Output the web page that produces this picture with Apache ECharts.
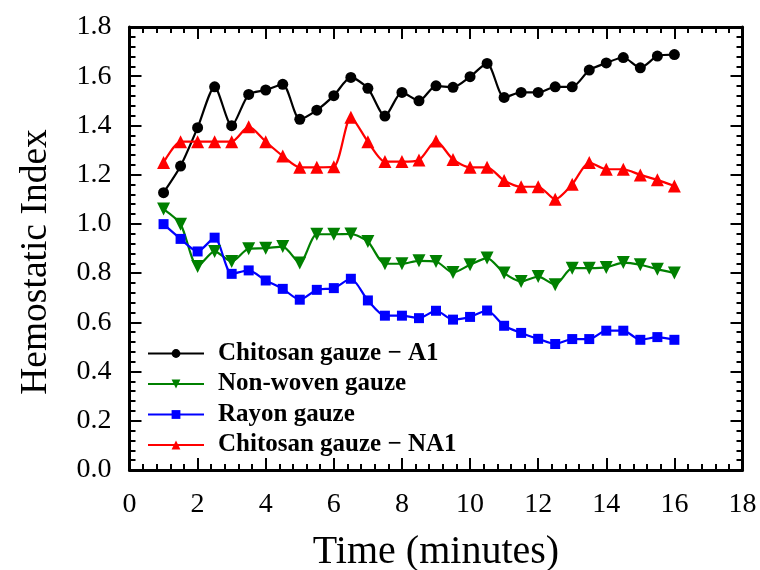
<!DOCTYPE html>
<html>
<head>
<meta charset="utf-8">
<script src="https://cdn.jsdelivr.net/npm/echarts@6/dist/echarts.min.js"></script>
<style>html,body{margin:0;padding:0;background:#fff}#c{width:760px;height:570px}</style>
</head>
<body>
<div id="c"></div>
<script>
var times = [1,1.5,2,2.5,3,3.5,4,4.5,5,5.5,6,6.5,7,7.5,8,8.5,9,9.5,10,10.5,11,11.5,12,12.5,13,13.5,14,14.5,15,15.5,16];
var chitosanA1 = [1.127,1.235,1.391,1.557,1.399,1.526,1.544,1.567,1.425,1.462,1.521,1.595,1.551,1.438,1.534,1.500,1.561,1.555,1.598,1.652,1.514,1.534,1.534,1.557,1.557,1.625,1.654,1.676,1.634,1.682,1.688];
var nonWoven = [1.060,0.999,0.827,0.888,0.847,0.899,0.901,0.908,0.841,0.958,0.958,0.959,0.928,0.838,0.838,0.850,0.847,0.802,0.834,0.861,0.800,0.766,0.786,0.753,0.820,0.820,0.823,0.843,0.834,0.816,0.800];
var rayon = [0.999,0.939,0.888,0.944,0.797,0.811,0.770,0.736,0.692,0.732,0.739,0.777,0.689,0.627,0.627,0.617,0.647,0.611,0.622,0.648,0.586,0.557,0.533,0.512,0.532,0.532,0.566,0.566,0.529,0.540,0.529];
var chitosanNA1 = [1.249,1.334,1.334,1.334,1.334,1.395,1.334,1.276,1.230,1.230,1.232,1.433,1.334,1.253,1.253,1.260,1.337,1.262,1.230,1.230,1.176,1.151,1.151,1.100,1.161,1.249,1.222,1.222,1.199,1.179,1.154];
var seriesNames = ['Chitosan gauze \u2212 A1','Non-woven gauze','Rayon gauze','Chitosan gauze \u2212 NA1'];
var xTicks = [0,2,4,6,8,10,12,14,16,18];
var yTicks = [0.0,0.2,0.4,0.6,0.8,1.0,1.2,1.4,1.6,1.8];
var xTitle = 'Time (minutes)';
var yTitle = 'Hemostatic Index';

function pairs(ys){ return times.map(function(t,i){ return [t, ys[i]]; }); }

var serif = 'Liberation Serif';
var tickCommon = {show:true, inside:true, length:12, lineStyle:{color:'#000', width:2}};
var minorCommon = {show:true, splitNumber:5, length:6, lineStyle:{color:'#000', width:2}};
var lineCommon = {show:true, onZero:false, lineStyle:{color:'#000', width:3}};

var chart = echarts.init(document.getElementById('c'), null, {renderer:'canvas'});
chart.setOption({
  animation:false,
  backgroundColor:'#fff',
  grid:{left:129.5, right:17.5, top:27, bottom:100, containLabel:false, outerBoundsMode:'none'},
  graphic:[{
    type:'text', x:36, y:262, rotation:Math.PI/2,
    style:{text:yTitle, fontFamily:serif, fontSize:37.5, fill:'#000', align:'center', verticalAlign:'middle'}
  }],
  xAxis:[{
    type:'value', min:xTicks[0], max:xTicks[xTicks.length-1], interval:2,
    name:xTitle, nameLocation:'middle', nameGap:62,
    nameTextStyle:{fontFamily:serif, fontSize:40, color:'#000'},
    axisLine:lineCommon, axisTick:tickCommon, minorTick:minorCommon,
    axisLabel:{fontFamily:serif, fontSize:28, color:'#000', margin:21},
    splitLine:{show:false}
  },{
    type:'value', position:'top', min:xTicks[0], max:xTicks[xTicks.length-1], interval:2,
    axisLine:lineCommon, axisTick:tickCommon, minorTick:minorCommon,
    axisLabel:{show:false}, splitLine:{show:false}
  }],
  yAxis:[{
    type:'value', min:yTicks[0], max:yTicks[yTicks.length-1], interval:0.2,
    axisLine:lineCommon, axisTick:tickCommon, minorTick:minorCommon,
    axisLabel:{fontFamily:serif, fontSize:28, color:'#000', margin:18,
      formatter:function(v){ return v.toFixed(1); }},
    splitLine:{show:false}
  },{
    type:'value', position:'right', min:yTicks[0], max:yTicks[yTicks.length-1], interval:0.2,
    axisLine:lineCommon, axisTick:tickCommon, minorTick:minorCommon,
    axisLabel:{show:false}, splitLine:{show:false}
  }],
  legend:{
    orient:'vertical', left:147, top:341, padding:0, itemWidth:56, itemHeight:11, itemGap:5.5,
    textStyle:{fontFamily:serif, fontSize:25, fontWeight:'bold', color:'#000', padding:[0,0,0,9]},
    data:seriesNames
  },
  series:[
    {name:seriesNames[0], type:'line', data:pairs(chitosanA1), smooth:0.25,
     symbol:'circle', symbolSize:11, itemStyle:{color:'#000'}, lineStyle:{color:'#000', width:2.2}},
    {name:seriesNames[1], type:'line', data:pairs(nonWoven), smooth:0.25,
     symbol:'triangle', symbolRotate:180, symbolSize:13, itemStyle:{color:'#008000'}, lineStyle:{color:'#008000', width:2.2}},
    {name:seriesNames[2], type:'line', data:pairs(rayon), smooth:0.25,
     symbol:'rect', symbolSize:10, itemStyle:{color:'#0000ff'}, lineStyle:{color:'#0000ff', width:2.2}},
    {name:seriesNames[3], type:'line', data:pairs(chitosanNA1), smooth:0.25,
     symbol:'triangle', symbolSize:13, itemStyle:{color:'#ff0000'}, lineStyle:{color:'#ff0000', width:2.2}}
  ]
});
</script>
</body>
</html>
